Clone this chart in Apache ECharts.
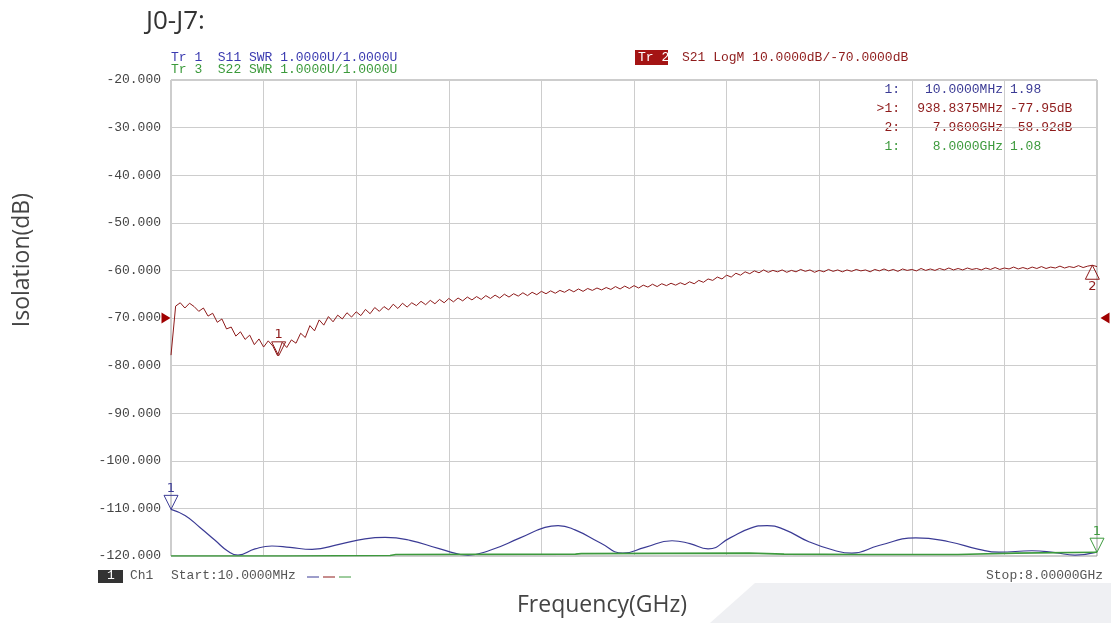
<!DOCTYPE html>
<html>
<head>
<meta charset="utf-8">
<script src="https://cdn.jsdelivr.net/npm/echarts@6/dist/echarts.min.js"></script>
<style>
  html, body { margin: 0; padding: 0; background: #fff; }
  #main { width: 1111px; height: 623px; }
</style>
</head>
<body>
<div id="main"></div>
<script>
// sweep 10 MHz .. 8 GHz, values in GHz
const START = 0.01
const STOP = 8

// S21 LogM (dB), 201 sweep points
const s21Values = [
  -77.8, -67.5, -66.8, -67.9, -66.9, -67.6, -68.6, -67.9, -69.6, -69.0,
  -70.9, -70.2, -72.3, -71.9, -73.8, -72.9, -74.5, -73.6, -75.6, -74.4,
  -76.1, -74.8, -75.9, -77.9, -75.1, -76.2, -74.6, -75.3, -73.2, -74.1,
  -71.6, -72.7, -70.4, -71.5, -69.7, -70.8, -69.4, -70.2, -68.9, -69.8,
  -68.7, -69.5, -68.2, -69.1, -67.8, -68.6, -67.6, -68.3, -67.1, -68.0,
  -66.9, -67.7, -66.8, -67.4, -66.5, -67.2, -66.3, -67.0, -66.1, -66.8,
  -65.9, -66.6, -65.8, -66.4, -65.6, -66.2, -65.5, -66.1, -65.3, -65.9,
  -65.2, -65.8, -65.0, -65.6, -64.9, -65.4, -64.7, -65.3, -64.6, -65.1,
  -64.4, -64.9, -64.3, -64.8, -64.2, -64.6, -64.0, -64.5, -63.9, -64.4,
  -63.8, -64.2, -63.7, -64.1, -63.6, -64.0, -63.4, -63.9, -63.3, -63.8,
  -63.2, -63.7, -63.1, -63.5, -62.9, -63.4, -62.8, -63.2, -62.7, -63.1,
  -62.6, -63.0, -62.4, -62.8, -62.1, -62.5, -61.8, -62.1, -61.4, -61.8,
  -61.0, -61.4, -60.6, -61.0, -60.3, -60.7, -60.1, -60.5, -59.9, -60.4,
  -60.0, -60.3, -59.9, -60.4, -60.0, -60.3, -59.8, -60.2, -59.9, -60.4,
  -60.0, -60.3, -59.8, -60.2, -59.9, -60.3, -59.9, -60.2, -59.8, -60.1,
  -59.9, -60.3, -59.8, -60.1, -59.7, -60.1, -59.8, -60.2, -59.7, -60.0,
  -59.8, -60.1, -59.6, -60.0, -59.7, -60.0, -59.6, -59.9, -59.5, -59.9,
  -59.6, -59.9, -59.5, -59.8, -59.6, -59.9, -59.5, -59.8, -59.4, -59.8,
  -59.5, -59.7, -59.3, -59.7, -59.4, -59.7, -59.3, -59.6, -59.2, -59.6,
  -59.3, -59.5, -59.1, -59.5, -59.2, -59.4, -59.0, -59.4, -59.1, -58.92,
  -59.2
]

// S11 SWR (U), blue trace
const s11Freq = [
  0.010, 0.131, 0.260, 0.390, 0.502, 0.588, 0.735, 0.881, 1.037, 1.227,
  1.469, 1.684, 1.857, 2.072, 2.331, 2.573, 2.763, 3.022, 3.237, 3.350,
  3.496, 3.712, 3.910, 4.100, 4.333, 4.488, 4.644, 4.834, 5.006, 5.153,
  5.298, 5.514, 5.730, 5.885, 6.118, 6.437, 6.722, 6.981, 7.154, 7.438,
  7.638, 7.810, 8.000
]
const s11Swr = [
  1.98, 1.85, 1.60, 1.33, 1.10, 1.02, 1.15, 1.21, 1.18, 1.14,
  1.25, 1.36, 1.39, 1.33, 1.15, 1.02, 1.12, 1.38, 1.60, 1.64,
  1.55, 1.28, 1.06, 1.18, 1.32, 1.26, 1.15, 1.38, 1.58, 1.64,
  1.56, 1.30, 1.12, 1.06, 1.22, 1.38, 1.30, 1.14, 1.08, 1.11,
  1.07, 1.02, 1.08
]

// S22 SWR (U), green trace
const s22Freq = [0.01, 1.0, 1.9, 1.95, 3.5, 3.55, 5.0, 5.3, 6.0, 6.8, 7.3, 8.0]
const s22Swr = [1.00, 1.00, 1.01, 1.03, 1.04, 1.05, 1.06, 1.04, 1.03, 1.03, 1.06, 1.08]

const yTicks = [-120, -20, 10] // min, max, dB per div

const RED = '#8e1b1b'
const BLUE = '#3b3b95'
const GREEN = '#3d9a3d'
const MONO = 'Liberation Mono'

const s21Data = s21Values.map((v, i) => [START + i * (STOP - START) / (s21Values.length - 1), v])
const s11Data = s11Freq.map((f, i) => [f, s11Swr[i]])
const s22Data = s22Freq.map((f, i) => [f, s22Swr[i]])

function txt(left, top, text, color, opts) {
  return Object.assign({
    type: 'text', left: left, top: top,
    style: { text: text, fill: color, font: '13px "' + MONO + '"' }
  }, opts || {})
}

// hollow marker triangle, tip sits on the data point
function marker(coord, label, color, up) {
  return {
    coord: coord,
    symbol: 'triangle',
    symbolSize: [14, 14],
    symbolRotate: up ? 0 : 180,
    symbolOffset: [0, up ? 7 : -7],
    itemStyle: { color: 'rgba(0,0,0,0)', borderColor: color, borderWidth: 1 },
    label: {
      show: true, formatter: label, color: color,
      fontFamily: 'DejaVu Sans', fontSize: 13,
      position: up ? 'bottom' : 'top', distance: 0
    }
  }
}

const chart = echarts.init(document.getElementById('main'))
chart.setOption({
  animation: false,
  backgroundColor: '#fff',
  grid: {
    left: 171, right: 14, top: 80, bottom: 67,
    show: true, borderColor: '#9a9a9a', borderWidth: 1
  },
  xAxis: [
    {
      type: 'value', min: START, max: STOP,
      axisLabel: { show: false }, axisLine: { show: false },
      axisTick: { show: false }, splitLine: { show: false }
    },
    {
      // 10 display divisions
      type: 'value', min: 0, max: 10, interval: 1, position: 'top',
      axisLabel: { show: false }, axisLine: { show: false },
      axisTick: { show: false },
      splitLine: { show: true, lineStyle: { color: '#cdcdcd', width: 1 } }
    }
  ],
  yAxis: [
    {
      type: 'value', min: yTicks[0], max: yTicks[1], interval: yTicks[2],
      axisLine: { show: false }, axisTick: { show: false },
      axisLabel: {
        margin: 10, color: '#444', fontFamily: MONO, fontSize: 13,
        formatter: v => v.toFixed(3)
      },
      splitLine: { lineStyle: { color: '#cdcdcd', width: 1 } }
    },
    { type: 'value', min: 1, max: 11, show: false }
  ],
  series: [
    {
      name: 'S11', type: 'line', xAxisIndex: 0, yAxisIndex: 1,
      data: s11Data, smooth: 0.5, showSymbol: false,
      lineStyle: { color: BLUE, width: 1.2 },
      markPoint: { data: [marker([0.01, 1.98], '1', BLUE, false)] }
    },
    {
      name: 'S22', type: 'line', xAxisIndex: 0, yAxisIndex: 1,
      data: s22Data, showSymbol: false,
      lineStyle: { color: GREEN, width: 1.6 },
      markPoint: { data: [marker([8.0, 1.08], '1', GREEN, false)] }
    },
    {
      name: 'S21', type: 'line', xAxisIndex: 0, yAxisIndex: 0,
      data: s21Data, showSymbol: false,
      lineStyle: { color: RED, width: 1 },
      markPoint: {
        data: [
          marker([0.9388, -77.95], '1', RED, false),
          marker([7.96, -58.92], '2', RED, true),
          {
            coord: [START, -70], symbol: 'triangle', symbolSize: [11, 9],
            symbolRotate: -90, symbolOffset: [-5, 0],
            itemStyle: { color: '#a00000' }, label: { show: false }
          },
          {
            coord: [STOP, -70], symbol: 'triangle', symbolSize: [11, 9],
            symbolRotate: 90, symbolOffset: [8, 0],
            itemStyle: { color: '#a00000' }, label: { show: false }
          }
        ]
      }
    }
  ],
  graphic: [
    {
      type: 'polygon', z: -1, silent: true,
      shape: { points: [[755, 583], [1111, 583], [1111, 623], [710, 623]] },
      style: { fill: '#eff0f3' }
    },
    {
      type: 'text', left: 146, top: 9,
      style: { text: 'J0-J7:', fill: '#333', font: '26px "Open Sans"' }
    },
    txt(171, 51, 'Tr 1  S11 SWR 1.0000U/1.0000U', '#3a3ab0'),
    txt(171, 63, 'Tr 3  S22 SWR 1.0000U/1.0000U', '#3b9a3b'),
    {
      type: 'rect', left: 635, top: 50,
      shape: { width: 33, height: 15 }, style: { fill: '#a41414' }
    },
    txt(638, 51, 'Tr 2', '#fff'),
    txt(682, 51, 'S21 LogM 10.0000dB/-70.0000dB', RED),

    // marker table
    txt(null, 83, '1:', BLUE, { right: 211 }),
    txt(null, 83, '10.0000MHz', BLUE, { right: 108 }),
    txt(1010, 83, '1.98', BLUE),
    txt(null, 102, '>1:', RED, { right: 211 }),
    txt(null, 102, '938.8375MHz', RED, { right: 108 }),
    txt(1010, 102, '-77.95dB', RED),
    txt(null, 121, '2:', RED, { right: 211 }),
    txt(null, 121, '7.9600GHz', RED, { right: 108 }),
    txt(1010, 121, '-58.92dB', RED),
    txt(null, 140, '1:', GREEN, { right: 211 }),
    txt(null, 140, '8.0000GHz', GREEN, { right: 108 }),
    txt(1010, 140, '1.08', GREEN),

    // footer
    {
      type: 'rect', left: 98, top: 570,
      shape: { width: 25, height: 13 }, style: { fill: '#333' }
    },
    txt(107, 569, '1', '#fff'),
    txt(130, 569, 'Ch1', '#555'),
    txt(171, 569, 'Start:10.0000MHz', '#555'),
    { type: 'line', shape: { x1: 307, y1: 577, x2: 319, y2: 577 }, style: { stroke: BLUE, lineWidth: 1 } },
    { type: 'line', shape: { x1: 323, y1: 577, x2: 335, y2: 577 }, style: { stroke: RED, lineWidth: 1 } },
    { type: 'line', shape: { x1: 339, y1: 577, x2: 351, y2: 577 }, style: { stroke: GREEN, lineWidth: 1 } },
    txt(null, 569, 'Stop:8.00000GHz', '#555', { right: 8 }),

    // axis titles
    {
      type: 'text', left: 517, top: 594,
      style: { text: 'Frequency(GHz)', fill: '#444', font: '23px "Open Sans"' }
    },
    {
      type: 'text', left: 11, top: 193, rotation: Math.PI / 2,
      style: { text: 'Isolation(dB)', fill: '#444', font: '23px "Open Sans"' }
    }
  ]
})
</script>
</body>
</html>
